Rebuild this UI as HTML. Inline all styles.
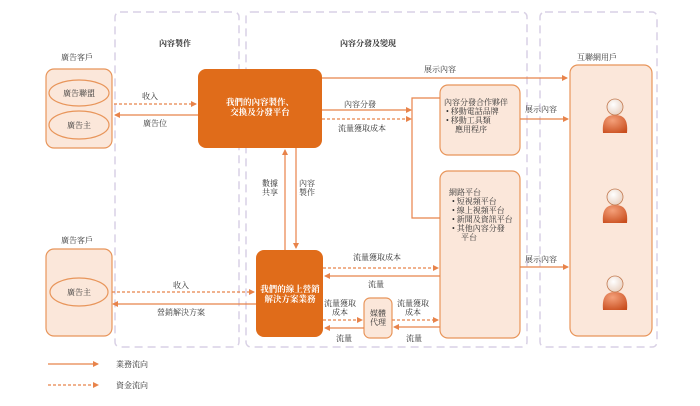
<!DOCTYPE html>
<html><head><meta charset="utf-8"><style>
body{margin:0;background:#fff}
text{font-family:"Liberation Serif","Noto Serif CJK SC","Noto Sans CJK TC",serif;font-size:8px;fill:#333}
.b{font-weight:bold}
.w{fill:#fff;font-weight:bold;font-size:8.5px}
</style></head><body>
<svg width="700" height="401" viewBox="0 0 700 401" xmlns="http://www.w3.org/2000/svg">
<defs>
<marker id="a" markerWidth="6" markerHeight="6" refX="5" refY="3" orient="auto" markerUnits="userSpaceOnUse"><path d="M0,0 L6,3 L0,6z" fill="#e8834a"/></marker>
<radialGradient id="g" cx="0.4" cy="0.3" r="0.8"><stop offset="0" stop-color="#f4a07a"/><stop offset="1" stop-color="#c94e1e"/></radialGradient>
<radialGradient id="h" cx="0.4" cy="0.35" r="0.7"><stop offset="0" stop-color="#fff"/><stop offset="1" stop-color="#e8d0c0"/></radialGradient>
<g id="p"><path d="M-12,20 C-13,8 -10,2 0,2 C10,2 13,8 12,20 Z" fill="url(#g)"/><circle cx="0" cy="-6" r="8" fill="url(#h)" stroke="#c27a50" stroke-width="0.8"/></g>
</defs>
<g fill="none" stroke="#d9d1e5" stroke-width="1.5" stroke-dasharray="8,5">
<rect x="115" y="12" width="124" height="335" rx="5"/>
<rect x="246" y="12" width="281" height="335" rx="5"/>
<rect x="540" y="12" width="117" height="335" rx="5"/>
</g>
<text x="175" y="46" class="b" text-anchor="middle">內容製作</text>
<text x="368" y="46" class="b" text-anchor="middle">內容分發及變現</text>
<text x="597" y="60" text-anchor="middle">互聯網用戶</text>
<text x="77" y="60" text-anchor="middle">廣告客戶</text>
<text x="77" y="243" text-anchor="middle">廣告客戶</text>
<g fill="#fbe7da" stroke="#e8955a" stroke-width="1.2">
<rect x="46" y="69" width="66" height="79" rx="8"/>
<rect x="46" y="249" width="66" height="87" rx="8"/>
<rect x="440" y="85" width="80" height="70" rx="8"/>
<rect x="440" y="171" width="80" height="167" rx="8"/>
<rect x="570" y="65" width="82" height="271" rx="8"/>
<rect x="364" y="298" width="28" height="40" rx="6"/>
<ellipse cx="79" cy="93" rx="30" ry="13"/>
<ellipse cx="79" cy="125" rx="30" ry="14"/>
<ellipse cx="79" cy="292" rx="29" ry="14"/>
</g>
<text x="79" y="96" text-anchor="middle">廣告聯盟</text>
<text x="79" y="128" text-anchor="middle">廣告主</text>
<text x="79" y="295" text-anchor="middle">廣告主</text>
<rect x="198" y="69" width="124" height="79" rx="8" fill="#e06c1a"/>
<rect x="256" y="250" width="67" height="87" rx="8" fill="#e06c1a"/>
<text x="260" y="105" class="w" text-anchor="middle">我們的內容製作、</text>
<text x="260" y="115" class="w" text-anchor="middle">交換及分發平台</text>
<text x="290" y="292" class="w" text-anchor="middle">我們的線上營銷</text>
<text x="290" y="302" class="w" text-anchor="middle">解決方案業務</text>
<g stroke="#e8834a" stroke-width="1.2" fill="none">
<path d="M114,104 H196" stroke-dasharray="3,2" marker-end="url(#a)"/>
<path d="M198,115 H115" marker-end="url(#a)"/>
<path d="M112,292 H254" stroke-dasharray="3,2" marker-end="url(#a)"/>
<path d="M256,304 H113" marker-end="url(#a)"/>
<path d="M285,250 V150" marker-end="url(#a)"/>
<path d="M296,148 V248" marker-end="url(#a)"/>
<path d="M322,78 H567" marker-end="url(#a)"/>
<path d="M322,110 H411" marker-end="url(#a)"/>
<path d="M322,119 H411" stroke-dasharray="3,2" marker-end="url(#a)"/>
<path d="M440,98 H412 V218 H440"/>
<path d="M520,119 H568" marker-end="url(#a)"/>
<path d="M520,267 H568" marker-end="url(#a)"/>
<path d="M323,268 H438" stroke-dasharray="3,2" marker-end="url(#a)"/>
<path d="M440,276 H325" marker-end="url(#a)"/>
<path d="M323,320 H362" stroke-dasharray="3,2" marker-end="url(#a)"/>
<path d="M364,328 H325" marker-end="url(#a)"/>
<path d="M392,320 H438" stroke-dasharray="3,2" marker-end="url(#a)"/>
<path d="M440,327 H394" marker-end="url(#a)"/>
<path d="M48,364 H98" marker-end="url(#a)"/>
<path d="M48,385 H98" stroke-dasharray="3,2" marker-end="url(#a)"/>
</g>
<text x="150" y="99" text-anchor="middle">收入</text>
<text x="155" y="126" text-anchor="middle">廣告位</text>
<text x="181" y="288" text-anchor="middle">收入</text>
<text x="181" y="315" text-anchor="middle">營銷解決方案</text>
<text x="270" y="186" text-anchor="middle">數據</text>
<text x="270" y="195" text-anchor="middle">共享</text>
<text x="307" y="186" text-anchor="middle">內容</text>
<text x="307" y="195" text-anchor="middle">製作</text>
<text x="440" y="72" text-anchor="middle">展示內容</text>
<text x="360" y="107" text-anchor="middle">內容分發</text>
<text x="362" y="131" text-anchor="middle">流量獲取成本</text>
<text x="541" y="112" text-anchor="middle">展示內容</text>
<text x="541" y="262" text-anchor="middle">展示內容</text>
<text x="377" y="260" text-anchor="middle">流量獲取成本</text>
<text x="376" y="287" text-anchor="middle">流量</text>
<text x="340" y="306" text-anchor="middle">流量獲取</text>
<text x="340" y="315" text-anchor="middle">成本</text>
<text x="413" y="306" text-anchor="middle">流量獲取</text>
<text x="413" y="315" text-anchor="middle">成本</text>
<text x="344" y="341" text-anchor="middle">流量</text>
<text x="414" y="341" text-anchor="middle">流量</text>
<text x="378" y="316" text-anchor="middle">媒體</text>
<text x="378" y="325" text-anchor="middle">代理</text>
<text x="444" y="105">內容分發合作夥伴</text>
<text x="446" y="114">•  移動電話品牌</text>
<text x="446" y="123">•  移動工具類</text>
<text x="455" y="132">應用程序</text>
<text x="449" y="195">網路平台</text>
<text x="452" y="204">•  短視頻平台</text>
<text x="452" y="213">•  線上視頻平台</text>
<text x="452" y="222">•  新聞及資訊平台</text>
<text x="452" y="231">•  其他內容分發</text>
<text x="461" y="240">平台</text>
<use href="#p" x="615" y="113"/>
<use href="#p" x="615" y="203"/>
<use href="#p" x="615" y="290"/>
<text x="116" y="367" font-size="9">業務流向</text>
<text x="116" y="388" font-size="9">資金流向</text>
</svg>
</body></html>
